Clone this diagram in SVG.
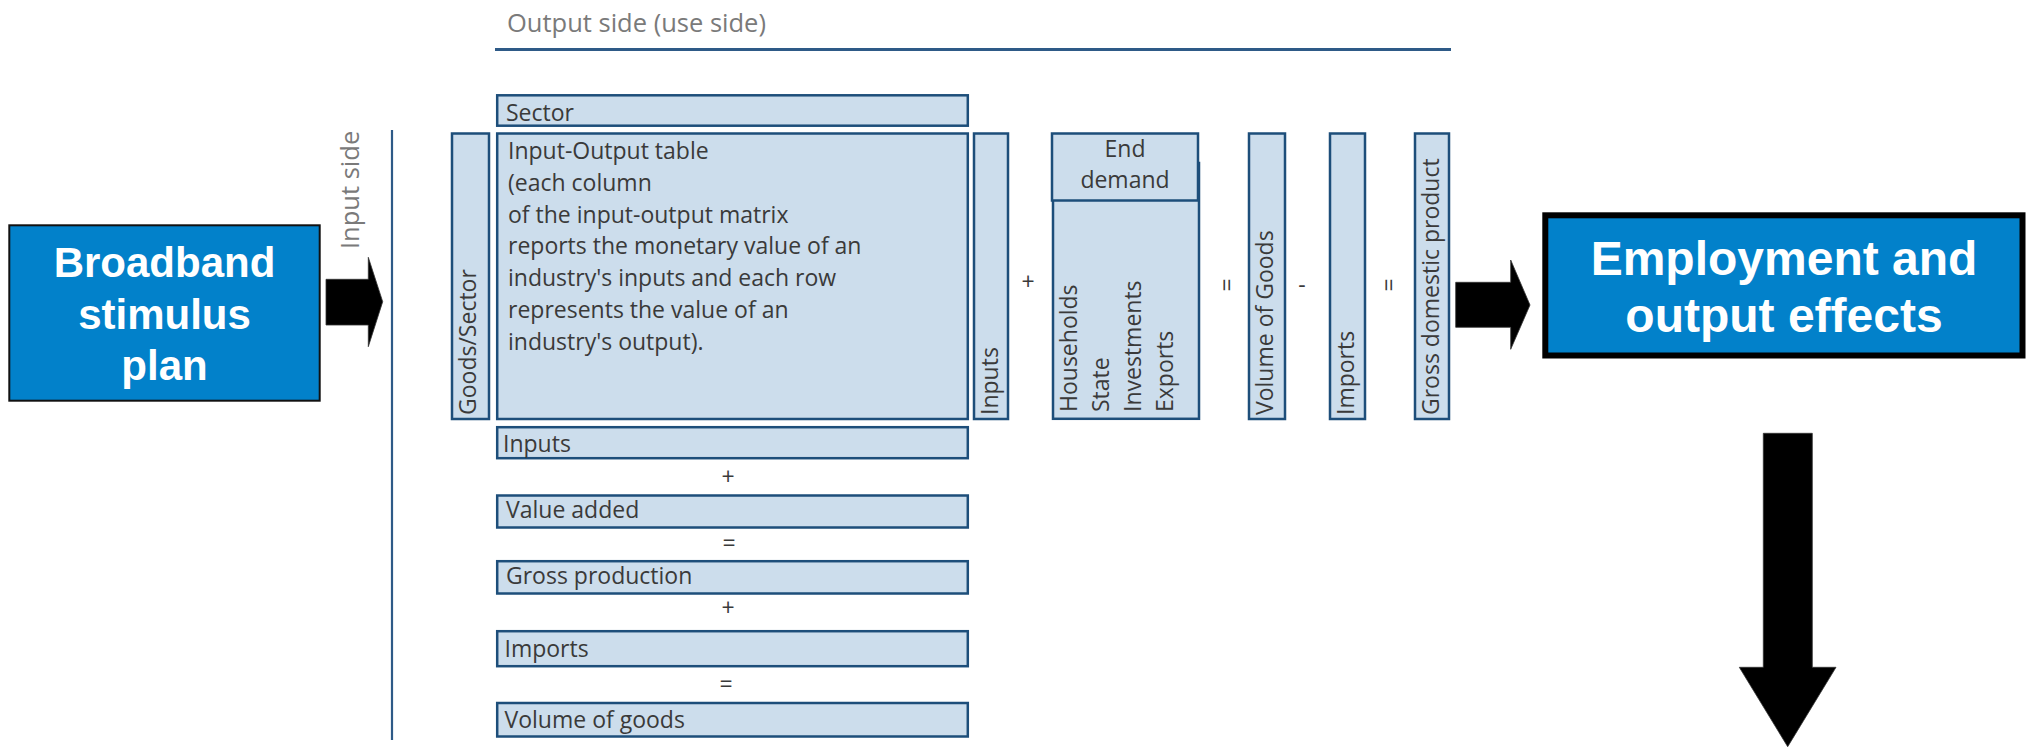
<svg xmlns="http://www.w3.org/2000/svg" width="2028" height="747" viewBox="0 0 2028 747">
  <style>
    .cell { fill: #CCDDEC; stroke: #1D4E7A; stroke-width: 2.5; }
    .lbl { font-family: "Open Sans", "Liberation Sans", sans-serif; font-size: 23px; fill: #3A3A3A; }
    .op { font-family: "Open Sans", "Liberation Sans", sans-serif; font-size: 23px; fill: #3A3A3A; text-anchor: middle; }
    .side { font-family: "Open Sans", "Liberation Sans", sans-serif; font-size: 25.5px; fill: #7A7A7A; }
    .rule { stroke: #2E5A87; fill: none; }
    .blue { fill: #0281CA; }
    .big { font-family: "Liberation Sans", Arial, sans-serif; font-weight: bold; fill: #FFFFFF; text-anchor: middle; }
    .arrow { fill: #000000; stroke: #333333; stroke-width: 0.8; }
  </style>

  <!-- axis captions and rules -->
  <g id="output-side">
    <text class="side" x="507" y="32">Output side (use side)</text>
    <line class="rule" x1="495" y1="49.5" x2="1451" y2="49.5" stroke-width="3"/>
  </g>
  <g id="input-side">
    <text class="side" transform="translate(359,249) rotate(-90)">Input side</text>
    <line class="rule" x1="392" y1="130" x2="392" y2="740" stroke-width="2.2"/>
  </g>

  <!-- source node -->
  <g id="broadband">
    <rect class="blue" x="9.3" y="225.3" width="310.4" height="175.4" stroke="#111111" stroke-width="2"/>
    <text class="big" font-size="42" x="164.5" y="277">Broadband</text>
    <text class="big" font-size="42" x="164.5" y="328.5">stimulus</text>
    <text class="big" font-size="42" x="164.5" y="380">plan</text>
  </g>

  <!-- input-output table: header, row labels, matrix -->
  <g id="sector">
    <rect class="cell" x="497.2" y="95.3" width="470.6" height="30.4"/>
    <text class="lbl" x="506" y="121">Sector</text>
  </g>
  <g id="goods-sector">
    <rect class="cell" x="452" y="133.5" width="37" height="285.5"/>
    <text class="lbl" transform="translate(476,415) rotate(-90)">Goods/Sector</text>
  </g>
  <g id="io-table">
    <rect class="cell" x="497.2" y="133.5" width="470.6" height="285.5"/>
    <text class="lbl" x="508" y="159.3">Input-Output table</text>
    <text class="lbl" x="508" y="191">(each column</text>
    <text class="lbl" x="508" y="222.7">of the input-output matrix</text>
    <text class="lbl" x="508" y="254.4">reports the monetary value of an</text>
    <text class="lbl" x="508" y="286.1">industry's inputs and each row</text>
    <text class="lbl" x="508" y="317.8">represents the value of an</text>
    <text class="lbl" x="508" y="349.5">industry's output).</text>
  </g>

  <!-- column side: use of goods -->
  <g id="col-inputs">
    <rect class="cell" x="974" y="133.5" width="34" height="285.5"/>
    <text class="lbl" transform="translate(998,415) rotate(-90)">Inputs</text>
  </g>
  <text class="op" x="1028" y="290">+</text>
  <g id="end-demand">
    <rect class="cell" x="1053" y="163" width="146" height="255.8"/>
    <rect class="cell" x="1052" y="133.5" width="146" height="67"/>
    <text class="lbl" text-anchor="middle" x="1125" y="157">End</text>
    <text class="lbl" text-anchor="middle" x="1125" y="188.3">demand</text>
    <text class="lbl" transform="translate(1077,412) rotate(-90)">Households</text>
    <text class="lbl" transform="translate(1109,412) rotate(-90)">State</text>
    <text class="lbl" transform="translate(1141,412) rotate(-90)">Investments</text>
    <text class="lbl" transform="translate(1173,412) rotate(-90)">Exports</text>
  </g>
  <text class="op" transform="translate(1235,285) rotate(-90)">=</text>
  <g id="col-volume">
    <rect class="cell" x="1249" y="133.5" width="36" height="285.5"/>
    <text class="lbl" transform="translate(1273,415) rotate(-90)">Volume of Goods</text>
  </g>
  <text class="op" x="1302" y="293">-</text>
  <g id="col-imports">
    <rect class="cell" x="1330" y="133.5" width="35" height="285.5"/>
    <text class="lbl" transform="translate(1354,415) rotate(-90)">Imports</text>
  </g>
  <text class="op" transform="translate(1397,285) rotate(-90)">=</text>
  <g id="col-gdp">
    <rect class="cell" x="1415" y="133.5" width="34" height="285.5"/>
    <text class="lbl" transform="translate(1439,415) rotate(-90)">Gross domestic product</text>
  </g>

  <!-- row side: build-up of supply -->
  <g id="row-inputs">
    <rect class="cell" x="497.2" y="427.2" width="470.6" height="31"/>
    <text class="lbl" x="503" y="451.7">Inputs</text>
  </g>
  <text class="op" x="728" y="485">+</text>
  <g id="row-value-added">
    <rect class="cell" x="497.2" y="495.5" width="470.6" height="32"/>
    <text class="lbl" x="506" y="518.3">Value added</text>
  </g>
  <text class="op" x="729" y="550.5">=</text>
  <g id="row-gross-production">
    <rect class="cell" x="497.2" y="561.2" width="470.6" height="32.3"/>
    <text class="lbl" x="506" y="584.3">Gross production</text>
  </g>
  <text class="op" x="728" y="616">+</text>
  <g id="row-imports">
    <rect class="cell" x="497.2" y="631.2" width="470.6" height="35"/>
    <text class="lbl" x="504.5" y="656.7">Imports</text>
  </g>
  <text class="op" x="726" y="692">=</text>
  <g id="row-volume">
    <rect class="cell" x="497.2" y="703" width="470.6" height="33.5"/>
    <text class="lbl" x="504.5" y="727.7">Volume of goods</text>
  </g>

  <!-- result node -->
  <g id="employment">
    <rect class="blue" x="1545.3" y="215.3" width="477.2" height="140.2" stroke="#000000" stroke-width="6"/>
    <text class="big" font-size="48" x="1784" y="275">Employment and</text>
    <text class="big" font-size="48" x="1784" y="331.7">output effects</text>
  </g>

  <!-- block arrows -->
  <g id="connectors">
    <polygon class="arrow" points="326,279.3 368.3,279.3 368.3,257.3 382.7,301.7 368.3,346.7 368.3,325 326,325"/>
    <polygon class="arrow" points="1455.7,282.3 1510.7,282.3 1510.7,260 1530,305 1510.7,349.3 1510.7,327.3 1455.7,327.3"/>
    <polygon class="arrow" points="1763.3,433.3 1812.3,433.3 1812.3,667.3 1836,667.3 1787.7,746.7 1739.3,667.3 1763.3,667.3"/>
  </g>
</svg>
